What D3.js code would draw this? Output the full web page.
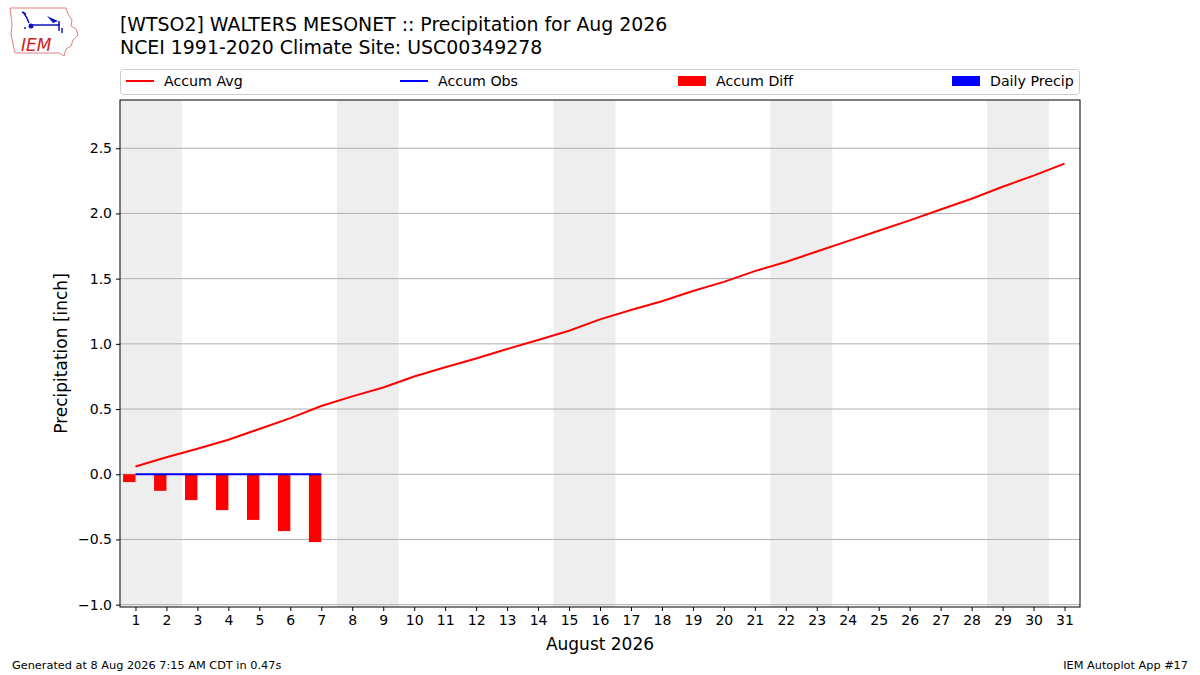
<!DOCTYPE html>
<html>
<head>
<meta charset="utf-8">
<script src="https://cdn.jsdelivr.net/npm/d3@7"></script>
<style>
  body { margin: 0; background: #fff; }
  svg text { font-family: "DejaVu Sans", sans-serif; fill: #000; }
</style>
</head>
<body>
<svg id="chart" width="1200" height="675"></svg>
<script>
// days of the month and the values
var days = d3.range(1, 32);
var accumAvg = [0.06, 0.13, 0.195, 0.265, 0.347, 0.43, 0.523, 0.597, 0.665, 0.75,
	0.82, 0.888, 0.96, 1.03, 1.10, 1.188, 1.26, 1.327, 1.405, 1.475,
	1.558, 1.628, 1.708, 1.788, 1.867, 1.947, 2.03, 2.113, 2.205, 2.29, 2.382];
var obsDays = [1, 2, 3, 4, 5, 6, 7];
var accumObs = [0, 0, 0, 0, 0, 0, 0];
var accumDiff = [-0.06, -0.127, -0.198, -0.275, -0.35, -0.436, -0.52];
var dailyPrecip = [0, 0, 0, 0, 0, 0, 0];
var weekendStarts = [1, 8, 15, 22, 29];
var yTicks = [-1.0, -0.5, 0.0, 0.5, 1.0, 1.5, 2.0, 2.5];

var svg = d3.select("#chart");
var pLeft = 120, pRight = 1080, pTop = 100, pBottom = 607;

var x = d3.scaleLinear().domain([0.5, 31.5]).range([pLeft, pRight]);
var y = d3.scaleLinear().domain([-1.018, 2.870]).range([pBottom, pTop]);

var plot = svg.append("g");
plot.append("clipPath").attr("id", "clip").append("rect")
	.attr("x", pLeft).attr("y", pTop).attr("width", pRight - pLeft).attr("height", pBottom - pTop);
var inner = plot.append("g").attr("clip-path", "url(#clip)");

// weekend shading
inner.selectAll("rect.wk").data(weekendStarts).enter().append("rect")
	.attr("class", "wk")
	.attr("x", function(d){ return x(d - 0.5); })
	.attr("width", function(d){ return x(d + 1.5) - x(d - 0.5); })
	.attr("y", pTop).attr("height", pBottom - pTop)
	.attr("fill", "#eeeeee");

// horizontal grid
inner.selectAll("line.grid").data(yTicks).enter().append("line")
	.attr("x1", pLeft).attr("x2", pRight)
	.attr("y1", function(d){ return y(d); }).attr("y2", function(d){ return y(d); })
	.attr("stroke", "#b0b0b0").attr("stroke-width", 1);

// accum diff bars (left of day)
inner.selectAll("rect.diff").data(obsDays).enter().append("rect")
	.attr("x", function(d){ return x(d - 0.4); })
	.attr("width", function(d){ return x(d) - x(d - 0.4); })
	.attr("y", function(d, i){ return y(Math.max(0, accumDiff[i])); })
	.attr("height", function(d, i){ return Math.abs(y(accumDiff[i]) - y(0)); })
	.attr("fill", "#ff0000");

// daily precip bars (right of day)
inner.selectAll("rect.daily").data(obsDays).enter().append("rect")
	.attr("x", function(d){ return x(d); })
	.attr("width", function(d){ return x(d + 0.4) - x(d); })
	.attr("y", function(d, i){ return y(dailyPrecip[i]); })
	.attr("height", function(d, i){ return y(0) - y(dailyPrecip[i]); })
	.attr("fill", "#0000ff");

var line = d3.line().x(function(d){ return x(d[0]); }).y(function(d){ return y(d[1]); });

inner.append("path")
	.datum(days.map(function(d, i){ return [d, accumAvg[i]]; }))
	.attr("d", line).attr("fill", "none").attr("stroke", "#ff0000").attr("stroke-width", 2);

inner.append("path")
	.datum(obsDays.map(function(d, i){ return [d, accumObs[i]]; }))
	.attr("d", line).attr("fill", "none").attr("stroke", "#0000ff").attr("stroke-width", 2);

// frame
plot.append("rect").attr("x", pLeft).attr("y", pTop)
	.attr("width", pRight - pLeft).attr("height", pBottom - pTop)
	.attr("fill", "none").attr("stroke", "#000").attr("stroke-width", 1);

// axes
var fmt = function(d){ return d3.format(".1f")(d).replace("-", "\u2212"); };
var yAxis = svg.append("g").attr("transform", "translate(" + pLeft + ",0)")
	.call(d3.axisLeft(y).tickValues(yTicks).tickFormat(fmt).tickSize(4).tickPadding(4));
var xAxis = svg.append("g").attr("transform", "translate(0," + pBottom + ")")
	.call(d3.axisBottom(x).tickValues(days).tickFormat(d3.format("d")).tickSize(4).tickPadding(4));
[xAxis, yAxis].forEach(function(a){
	a.select(".domain").remove();
	a.selectAll("text").attr("font-size", 14).attr("font-family", "DejaVu Sans").attr("fill", "#000");
	a.selectAll("line").attr("stroke", "#000");
});

svg.append("text").attr("x", (pLeft + pRight) / 2).attr("y", 650)
	.attr("text-anchor", "middle").attr("font-size", 17).text("August 2026");
svg.append("text").attr("transform", "translate(67," + ((pTop + pBottom) / 2) + ") rotate(-90)")
	.attr("text-anchor", "middle").attr("font-size", 17).text("Precipitation [inch]");

// titles
svg.append("text").attr("x", 120).attr("y", 31).attr("font-size", 18.9)
	.text("[WTSO2] WALTERS MESONET :: Precipitation for Aug 2026");
svg.append("text").attr("x", 120).attr("y", 54).attr("font-size", 18.9)
	.text("NCEI 1991-2020 Climate Site: USC00349278");

// legend
var legend = svg.append("g");
legend.append("rect").attr("x", 120.5).attr("y", 69.5).attr("width", 959).attr("height", 25)
	.attr("rx", 3).attr("fill", "#fff").attr("stroke", "#cccccc");
var legendItems = [
	{ label: "Accum Avg", type: "line", color: "#ff0000", x: 126 },
	{ label: "Accum Obs", type: "line", color: "#0000ff", x: 400 },
	{ label: "Accum Diff", type: "rect", color: "#ff0000", x: 678 },
	{ label: "Daily Precip", type: "rect", color: "#0000ff", x: 952 }
];
legendItems.forEach(function(it){
	if (it.type === "line") {
		legend.append("line").attr("x1", it.x).attr("x2", it.x + 28).attr("y1", 81).attr("y2", 81)
			.attr("stroke", it.color).attr("stroke-width", 2);
	} else {
		legend.append("rect").attr("x", it.x).attr("y", 76).attr("width", 28).attr("height", 10)
			.attr("fill", it.color);
	}
	legend.append("text").attr("x", it.x + 38).attr("y", 86).attr("font-size", 14.2).text(it.label);
});

// footer
svg.append("text").attr("x", 12).attr("y", 669).attr("font-size", 11.3)
	.text("Generated at 8 Aug 2026 7:15 AM CDT in 0.47s");
svg.append("text").attr("x", 1188).attr("y", 669).attr("font-size", 11.3).attr("text-anchor", "end")
	.text("IEM Autoplot App #17");

// IEM logo (rough sketch)
var logo = svg.append("g");
logo.append("path")
	.attr("d", "M10,8 L66,8 L68,14 L72,20 L71,26 L76,29 L78,35 L73,40 L71,46 L66,49 L64,56 L59,53 L15,53 L13,44 L11,34 L12,24 Z")
	.attr("fill", "#fff").attr("stroke", "#e08080").attr("stroke-width", 1);
logo.append("path").attr("d", "M31,25 L60,25 M59,21 L59,31 M62,28 L62,33 M23,12 Q27,17 29,23 M22,12 L26,14")
	.attr("fill", "none").attr("stroke", "#1010c0").attr("stroke-width", 1.5);
logo.append("circle").attr("cx", 31).attr("cy", 26).attr("r", 2.5).attr("fill", "#1010c0");
logo.append("path").attr("d", "M47,16 L58,21 L53,23 Z").attr("fill", "#1010c0");
logo.append("circle").attr("cx", 25).attr("cy", 28).attr("r", 1).attr("fill", "#1010c0");
logo.append("text").attr("x", 21).attr("y", 51).attr("font-size", 17)
	.attr("font-family", "DejaVu Serif").attr("font-style", "italic")
	.style("fill", "#d02020").text("IEM");
</script>
</body>
</html>
